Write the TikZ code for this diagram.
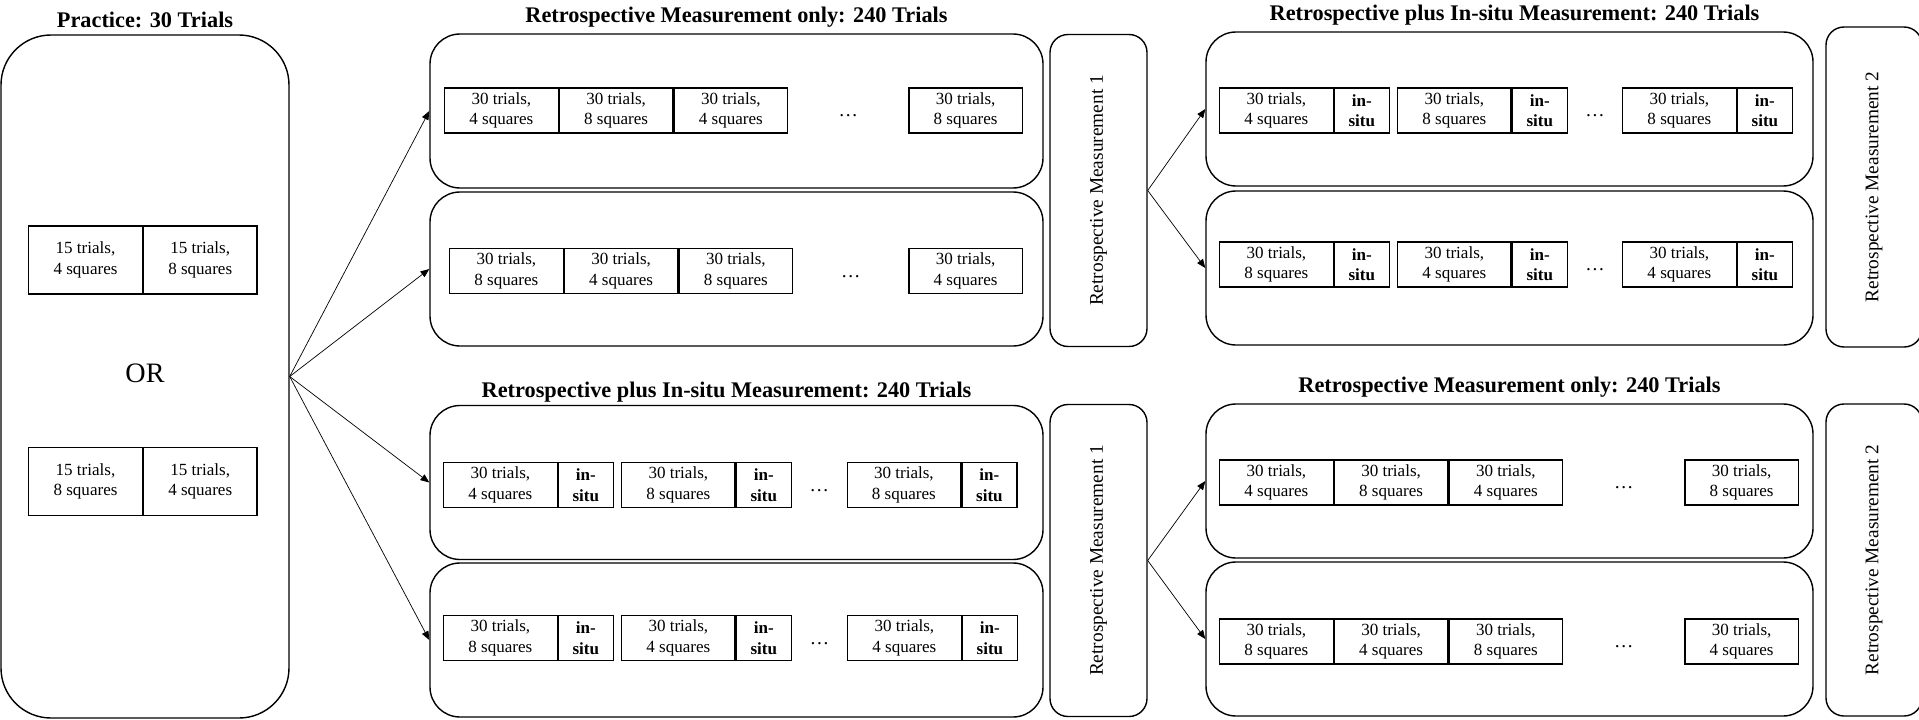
\documentclass[tikz,border=0pt]{standalone}
\usepackage{fontspec}
\setmainfont{Liberation Serif}
\usepackage{graphicx}
\usetikzlibrary{arrows.meta, positioning, calc}

\begin{document}
\begin{tikzpicture}[
            practice_style/.style={rectangle, rounded corners=1cm, draw, line width=0.8pt, minimum width=5.76cm, minimum height=13.66cm},
            group_style/.style={rectangle, rounded corners=0.6cm, draw, line width=0.8pt, minimum width=12.26cm, minimum height=3.08cm},
            retro_style/.style={rectangle, rounded corners=0.36cm, draw, line width=0.8pt, minimum width=1.94cm, minimum height=6.24cm, font=\fontsize{11}{13}\selectfont},
            trial_style/.style={rectangle, draw, line width=0.7pt, minimum width=2.27cm, minimum height=0.9cm, inner sep=0pt, align=center, font=\fontsize{9.7}{11.6}\selectfont},
            insitu_style/.style={trial_style, minimum width=1.1cm, font=\fontsize{9.7}{11.6}\selectfont\bfseries},
            title_style/.style={font=\fontsize{12.7}{15}\selectfont\bfseries},
            dots_style/.style={font=\fontsize{11}{13}\selectfont, yshift=-3pt},
            line/.style={-{Triangle[length=5pt, width=4pt]}, line width=0.4pt}
        ]
        \clip (0,0) rectangle (38.38,-14.4);

        % Practice block
        \node (practice) [practice_style] at (2.9,-7.53) {};
        \node (ptitle) [title_style, above=0pt of practice] {Practice: 30 Trials};
        \node (p1) [trial_style, minimum height=1.36cm] at (1.71,-5.2) {15 trials,\\4 squares};
        \node (p2) [trial_style, minimum height=1.36cm, right=0pt of p1] {15 trials,\\8 squares};
        \node (or) [font=\fontsize{16}{19}\selectfont] at (2.9,-7.46) {OR};
        \node (p3) [trial_style, minimum height=1.36cm] at (1.71,-9.63) {15 trials,\\8 squares};
        \node (p4) [trial_style, minimum height=1.36cm, right=0pt of p3] {15 trials,\\4 squares};

        % Middle column, upper half
        \node (grpA) [group_style] at (14.73,-2.22) {};
        \node (grpB) [group_style] at (14.73,-5.38) {};
        \node (titleA) [title_style, above=0pt of grpA] {Retrospective Measurement only: 240 Trials};
        \node (a1) [trial_style, anchor=west] at (8.88,-2.21) {30 trials,\\4 squares};
        \node (a2) [trial_style, right=0pt of a1] {30 trials,\\8 squares};
        \node (a3) [trial_style, right=0pt of a2] {30 trials,\\4 squares};
        \node (a4) [trial_style, anchor=east] at (20.46,-2.21) {30 trials,\\8 squares};
        \node (adots) [dots_style] at ($(a3.east)!0.5!(a4.west)$) {\dots};
        \node (b1) [trial_style, anchor=west] at (8.98,-5.42) {30 trials,\\8 squares};
        \node (b2) [trial_style, right=0pt of b1] {30 trials,\\4 squares};
        \node (b3) [trial_style, right=0pt of b2] {30 trials,\\8 squares};
        \node (b4) [trial_style, anchor=east] at (20.46,-5.42) {30 trials,\\4 squares};
        \node (bdots) [dots_style] at ($(b3.east)!0.5!(b4.west)$) {\dots};

        % Middle column, lower half
        \node (grpC) [group_style] at (14.73,-9.65) {};
        \node (grpD) [group_style] at (14.73,-12.80) {};
        \node (titleC) [title_style, above=-0.08cm of grpC, xshift=-0.2cm] {Retrospective plus In-situ Measurement: 240 Trials};
        \node (c1) [trial_style, anchor=west] at (8.86,-9.7) {30 trials,\\4 squares};
        \node (c1s) [insitu_style, right=0pt of c1] {in-\\situ};
        \node (c2) [trial_style, right=0.14cm of c1s] {30 trials,\\8 squares};
        \node (c2s) [insitu_style, right=0pt of c2] {in-\\situ};
        \node (c3s) [insitu_style, anchor=east] at (20.35,-9.7) {in-\\situ};
        \node (c3) [trial_style, left=0pt of c3s] {30 trials,\\8 squares};
        \node (cdots) [dots_style] at ($(c2s.east)!0.5!(c3.west)$) {\dots};
        \node (d1) [trial_style, anchor=west] at (8.86,-12.76) {30 trials,\\8 squares};
        \node (d1s) [insitu_style, right=0pt of d1] {in-\\situ};
        \node (d2) [trial_style, right=0.14cm of d1s] {30 trials,\\4 squares};
        \node (d2s) [insitu_style, right=0pt of d2] {in-\\situ};
        \node (d3s) [insitu_style, anchor=east] at (20.36,-12.76) {in-\\situ};
        \node (d3) [trial_style, left=0pt of d3s] {30 trials,\\4 squares};
        \node (ddots) [dots_style] at ($(d2s.east)!0.5!(d3.west)$) {\dots};

        % Retrospective Measurement 1
        \node (rmOneA) [retro_style] at (21.97,-3.81) {\rotatebox{90}{Retrospective Measurement 1}};
        \node (rmOneB) [retro_style] at (21.97,-11.21) {\rotatebox{90}{Retrospective Measurement 1}};

        % Right column, upper half
        \node (grpE) [group_style, minimum width=12.14cm] at (30.19,-2.18) {};
        \node (grpF) [group_style, minimum width=12.14cm] at (30.19,-5.36) {};
        \node (titleE) [title_style, above=0pt of grpE, xshift=0.1cm] {Retrospective plus In-situ Measurement: 240 Trials};
        \node (e1) [trial_style, anchor=west] at (24.38,-2.21) {30 trials,\\4 squares};
        \node (e1s) [insitu_style, right=0pt of e1] {in-\\situ};
        \node (e2) [trial_style, right=0.14cm of e1s] {30 trials,\\8 squares};
        \node (e2s) [insitu_style, right=0pt of e2] {in-\\situ};
        \node (e3s) [insitu_style, anchor=east] at (35.86,-2.21) {in-\\situ};
        \node (e3) [trial_style, left=0pt of e3s] {30 trials,\\8 squares};
        \node (edots) [dots_style] at ($(e2s.east)!0.5!(e3.west)$) {\dots};
        \node (f1) [trial_style, anchor=west] at (24.38,-5.29) {30 trials,\\8 squares};
        \node (f1s) [insitu_style, right=0pt of f1] {in-\\situ};
        \node (f2) [trial_style, right=0.14cm of f1s] {30 trials,\\4 squares};
        \node (f2s) [insitu_style, right=0pt of f2] {in-\\situ};
        \node (f3s) [insitu_style, anchor=east] at (35.86,-5.29) {in-\\situ};
        \node (f3) [trial_style, left=0pt of f3s] {30 trials,\\4 squares};
        \node (fdots) [dots_style] at ($(f2s.east)!0.5!(f3.west)$) {\dots};

        % Right column, lower half
        \node (grpG) [group_style, minimum width=12.14cm] at (30.19,-9.62) {};
        \node (grpH) [group_style, minimum width=12.14cm] at (30.19,-12.78) {};
        \node (titleG) [title_style, above=0pt of grpG] {Retrospective Measurement only: 240 Trials};
        \node (g1) [trial_style, anchor=west] at (24.38,-9.65) {30 trials,\\4 squares};
        \node (g2) [trial_style, right=0pt of g1] {30 trials,\\8 squares};
        \node (g3) [trial_style, right=0pt of g2] {30 trials,\\4 squares};
        \node (g4) [trial_style, anchor=east] at (35.98,-9.65) {30 trials,\\8 squares};
        \node (gdots) [dots_style] at ($(g3.east)!0.5!(g4.west)$) {\dots};
        \node (h1) [trial_style, anchor=west] at (24.38,-12.83) {30 trials,\\8 squares};
        \node (h2) [trial_style, right=0pt of h1] {30 trials,\\4 squares};
        \node (h3) [trial_style, right=0pt of h2] {30 trials,\\8 squares};
        \node (h4) [trial_style, anchor=east] at (35.98,-12.83) {30 trials,\\4 squares};
        \node (hdots) [dots_style] at ($(h3.east)!0.5!(h4.west)$) {\dots};

        % Retrospective Measurement 2
        \node (rmTwoA) [retro_style, minimum width=1.92cm, minimum height=6.4cm] at (37.48,-3.74) {\rotatebox{90}{Retrospective Measurement 2}};
        \node (rmTwoB) [retro_style, minimum width=1.92cm] at (37.48,-11.2) {\rotatebox{90}{Retrospective Measurement 2}};

        % Connections
        \draw [line] (practice.east) -- (grpA.west);
        \draw [line] (practice.east) -- (grpB.west);
        \draw [line] (practice.east) -- (grpC.west);
        \draw [line] (practice.east) -- (grpD.west);
        \draw [line] (rmOneA.east) -- (grpE.west);
        \draw [line] (rmOneA.east) -- (grpF.west);
        \draw [line] (rmOneB.east) -- (grpG.west);
        \draw [line] (rmOneB.east) -- (grpH.west);

    \end{tikzpicture}
\end{document}
